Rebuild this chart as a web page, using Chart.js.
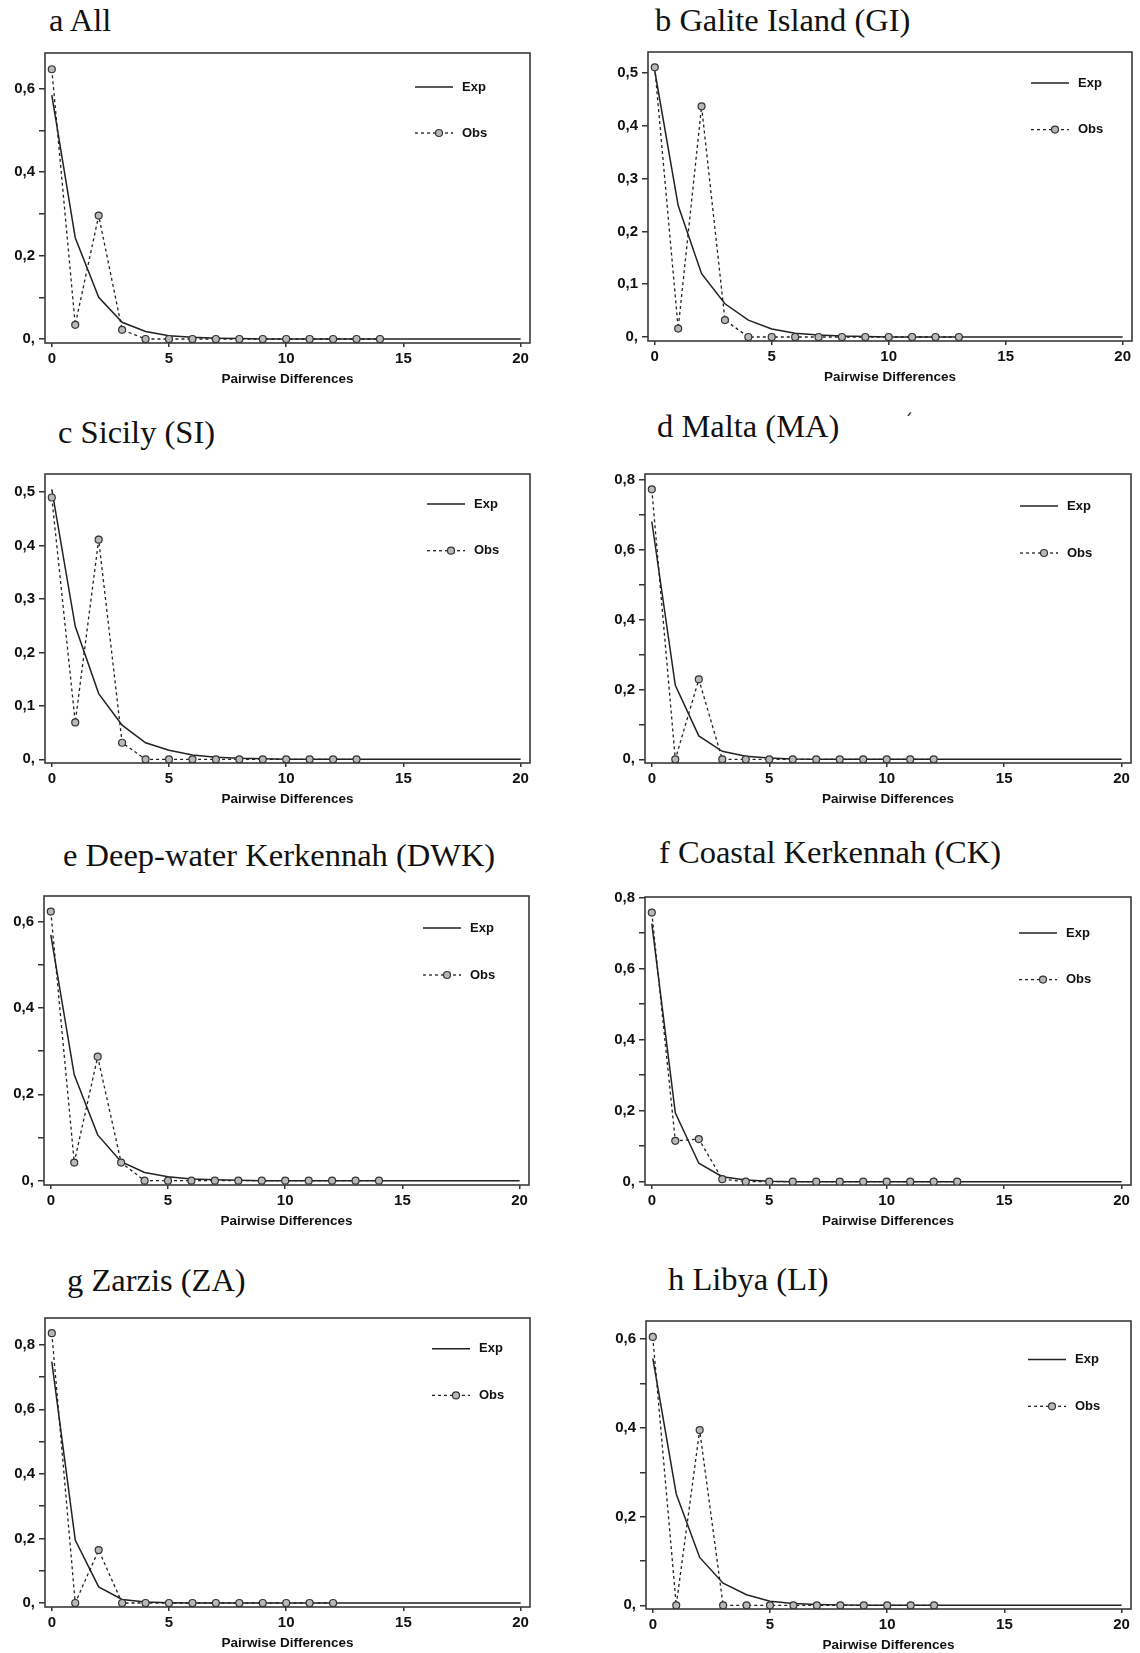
<!DOCTYPE html>
<html>
<head>
<meta charset="utf-8">
<script src="https://cdn.jsdelivr.net/npm/chart.js@4"></script>
<style>
  body { margin: 0; background: #fff; }
  #page { position: relative; width: 1140px; height: 1653px; overflow: hidden; background: #fff; }
  .ttl { position: absolute; font: 32.5px 'Liberation Serif', 'Times New Roman', serif; line-height: 32.5px; white-space: nowrap; color: #111; }
  canvas { position: absolute; }
</style>
</head>
<body>
<div id="page"></div>
<script>
// mismatch distributions: expected (0..20) and observed (0..n)
const expAll = [0.585, 0.243, 0.100, 0.040, 0.018, 0.008, 0.004, 0.002, 0.001, 0, 0, 0, 0, 0, 0, 0, 0, 0, 0, 0, 0];
const obsAll = [0.647, 0.034, 0.296, 0.022, 0, 0, 0, 0, 0, 0, 0, 0, 0, 0, 0];
const expGI = [0.504, 0.249, 0.120, 0.063, 0.032, 0.015, 0.007, 0.004, 0.002, 0.001, 0, 0, 0, 0, 0, 0, 0, 0, 0, 0, 0];
const obsGI = [0.511, 0.016, 0.437, 0.032, 0, 0, 0, 0, 0, 0, 0, 0, 0, 0];
const expSI = [0.505, 0.249, 0.123, 0.064, 0.031, 0.017, 0.008, 0.004, 0.002, 0.001, 0, 0, 0, 0, 0, 0, 0, 0, 0, 0, 0];
const obsSI = [0.490, 0.069, 0.411, 0.031, 0, 0, 0, 0, 0, 0, 0, 0, 0, 0];
const expMA = [0.681, 0.212, 0.067, 0.023, 0.009, 0.004, 0.001, 0, 0, 0, 0, 0, 0, 0, 0, 0, 0, 0, 0, 0, 0];
const obsMA = [0.773, 0, 0.229, 0, 0, 0, 0, 0, 0, 0, 0, 0, 0];
const expDWK = [0.569, 0.245, 0.106, 0.044, 0.019, 0.009, 0.004, 0.002, 0.001, 0, 0, 0, 0, 0, 0, 0, 0, 0, 0, 0, 0];
const obsDWK = [0.623, 0.042, 0.287, 0.042, 0, 0, 0, 0, 0, 0, 0, 0, 0, 0, 0];
const expCK = [0.727, 0.194, 0.052, 0.014, 0.005, 0.001, 0, 0, 0, 0, 0, 0, 0, 0, 0, 0, 0, 0, 0, 0, 0];
const obsCK = [0.758, 0.115, 0.120, 0.007, 0, 0, 0, 0, 0, 0, 0, 0, 0, 0];
const expZA = [0.748, 0.195, 0.050, 0.011, 0.003, 0.001, 0, 0, 0, 0, 0, 0, 0, 0, 0, 0, 0, 0, 0, 0, 0];
const obsZA = [0.836, 0, 0.164, 0, 0, 0, 0, 0, 0, 0, 0, 0, 0];
const expLI = [0.557, 0.251, 0.108, 0.050, 0.024, 0.009, 0.004, 0.002, 0.001, 0, 0, 0, 0, 0, 0, 0, 0, 0, 0, 0, 0];
const obsLI = [0.605, 0, 0.395, 0, 0, 0, 0, 0, 0, 0, 0, 0, 0];

const xTickValues = [0, 5, 10, 15, 20];
const yTickValues = [0, 0.1, 0.2, 0.3, 0.4, 0.5, 0.6, 0.7, 0.8];
const seriesNames = ['Exp', 'Obs'];
const xTitle = 'Pairwise Differences';

// box = plot frame [left, top, width, height]; legend = [dx from right, row1 dy, row2 dy]
const panels = [
  { title: 'a All', exp: expAll, obs: obsAll, box: [45, 53, 485, 290], tpos: [49, 31], yMin: -0.0096, yMax: 0.686, every: 2, legend: [115, 34, 80] },
  { title: 'b Galite Island (GI)', exp: expGI, obs: obsGI, box: [648, 52, 484, 289], tpos: [655, 31], yMin: -0.0076, yMax: 0.540, every: 1, legend: [101, 31, 77.6] },
  { title: 'c Sicily (SI)', exp: expSI, obs: obsSI, box: [45, 474, 485, 289], tpos: [58, 443], yMin: -0.0069, yMax: 0.534, every: 1, legend: [103, 30, 76.7] },
  { title: 'd Malta (MA)', exp: expMA, obs: obsMA, box: [645, 474, 486, 289], tpos: [657, 436.5], yMin: -0.0105, yMax: 0.817, every: 2, legend: [111, 32, 79] },
  { title: 'e Deep-water Kerkennah (DWK)', exp: expDWK, obs: obsDWK, box: [44, 896, 485, 289], tpos: [63, 865.5], yMin: -0.010, yMax: 0.659, every: 2, legend: [106, 32, 79] },
  { title: 'f Coastal Kerkennah (CK)', exp: expCK, obs: obsCK, box: [645, 897, 486, 288], tpos: [659, 863], yMin: -0.0094, yMax: 0.802, every: 2, legend: [112, 36, 82.6] },
  { title: 'g Zarzis (ZA)', exp: expZA, obs: obsZA, box: [45, 1318, 485, 289], tpos: [67, 1290.5], yMin: -0.0124, yMax: 0.883, every: 2, legend: [98, 30.7, 77.4] },
  { title: 'h Libya (LI)', exp: expLI, obs: obsLI, box: [646, 1321, 485, 288], tpos: [668, 1290], yMin: -0.0083, yMax: 0.641, every: 2, legend: [103, 38.6, 85.3] }
];

const PAD_L = 46, PAD_T = 16, PAD_R = 12, PAD_B = 47;
const INK = '#222';
const SANS = '"Liberation Sans", Arial, sans-serif';

const framePlugin = {
  id: 'frame',
  beforeDatasetsDraw(chart) {
    const { ctx, chartArea: a } = chart;
    ctx.save();
    ctx.strokeStyle = '#3a3a3a';
    ctx.lineWidth = 1.6;
    ctx.strokeRect(a.left, a.top, a.right - a.left, a.bottom - a.top);
    ctx.restore();
  }
};

const pairLegend = {
  id: 'pairLegend',
  afterDatasetsDraw(chart, args, o) {
    const { ctx, chartArea: a } = chart;
    const ds = chart.data.datasets;
    const x0 = a.right - o.dx, x1 = x0 + 38;
    const y1 = a.top + o.dy1, y2 = a.top + o.dy2;
    ctx.save();
    ctx.strokeStyle = INK;
    ctx.lineWidth = 1.5;
    ctx.beginPath(); ctx.moveTo(x0, y1); ctx.lineTo(x1, y1); ctx.stroke();
    ctx.lineWidth = 1.3;
    ctx.setLineDash([3, 3]);
    ctx.beginPath(); ctx.moveTo(x0, y2); ctx.lineTo(x1, y2); ctx.stroke();
    ctx.setLineDash([]);
    ctx.lineWidth = 1.2;
    ctx.beginPath(); ctx.arc(x0 + 24, y2, 3.5, 0, Math.PI * 2);
    ctx.fillStyle = '#b8b8b8'; ctx.fill(); ctx.strokeStyle = '#333'; ctx.stroke();
    ctx.fillStyle = '#111';
    ctx.font = 'bold 13px ' + SANS;
    ctx.textBaseline = 'middle';
    ctx.fillText(ds[0].label, x0 + 47, y1);
    ctx.fillText(ds[1].label, x0 + 47, y2);
    ctx.restore();
  }
};

const page = document.getElementById('page');

panels.forEach(p => {
  const [bx, by, bw, bh] = p.box;

  const t = document.createElement('div');
  t.className = 'ttl';
  t.textContent = p.title;
  t.style.left = p.tpos[0] + 'px';
  t.style.top = (p.tpos[1] - 27) + 'px';
  page.appendChild(t);

  const cv = document.createElement('canvas');
  cv.width = bw + PAD_L + PAD_R;
  cv.height = bh + PAD_T + PAD_B;
  cv.style.left = (bx - PAD_L) + 'px';
  cv.style.top = (by - PAD_T) + 'px';
  page.appendChild(cv);

  new Chart(cv.getContext('2d'), {
    type: 'line',
    data: {
      datasets: [
        {
          label: seriesNames[0],
          data: p.exp.map((y, i) => ({ x: i, y: y })),
          borderColor: INK,
          borderWidth: 1.5,
          pointRadius: 0,
          tension: 0,
          fill: false,
          order: 2
        },
        {
          label: seriesNames[1],
          data: p.obs.map((y, i) => ({ x: i, y: y })),
          borderColor: INK,
          borderWidth: 1.3,
          borderDash: [3, 3],
          pointRadius: 3.5,
          pointBackgroundColor: '#b8b8b8',
          pointBorderColor: '#333',
          pointBorderWidth: 1.2,
          tension: 0,
          fill: false,
          order: 1
        }
      ]
    },
    options: {
      responsive: false,
      animation: false,
      devicePixelRatio: 1,
      layout: { padding: { left: 0, top: PAD_T, right: PAD_R, bottom: 0 } },
      plugins: {
        legend: { display: false },
        tooltip: { enabled: false },
        pairLegend: { dx: p.legend[0], dy1: p.legend[1], dy2: p.legend[2] }
      },
      scales: {
        x: {
          type: 'linear',
          min: -0.29,
          max: 20.4,
          afterBuildTicks: s => { s.ticks = xTickValues.map(v => ({ value: v })); },
          afterFit: s => { s.height = PAD_B; },
          grid: { drawOnChartArea: false, drawTicks: true, tickLength: 4, color: '#333', lineWidth: 1.5 },
          border: { display: false },
          ticks: {
            autoSkip: false,
            maxRotation: 0,
            padding: 3,
            color: '#111',
            font: { family: SANS, size: 15, weight: 'bold' }
          },
          title: {
            display: true,
            text: xTitle,
            color: '#111',
            padding: { top: 0, bottom: 3 },
            font: { family: SANS, size: 13.5, weight: 'bold' }
          }
        },
        y: {
          min: p.yMin,
          max: p.yMax,
          afterBuildTicks: s => { s.ticks = yTickValues.filter(v => v <= p.yMax).map(v => ({ value: v })); },
          afterFit: s => { s.width = PAD_L; },
          grid: { drawOnChartArea: false, drawTicks: true, tickLength: 6, color: '#333', lineWidth: 1.5 },
          border: { display: false },
          ticks: {
            autoSkip: false,
            padding: 4,
            color: '#111',
            font: { family: SANS, size: 15, weight: 'bold' },
            callback: v => {
              const k = Math.round(v * 10);
              if (k % p.every !== 0) return '';
              return '0,' + (k === 0 ? '' : k);
            }
          }
        }
      }
    },
    plugins: [framePlugin, pairLegend]
  });
});

// small stray stroke next to panel d title
const mark = document.createElement('div');
mark.className = 'ttl';
mark.style.font = '18px "DejaVu Sans", sans-serif';
mark.style.left = '904px';
mark.style.top = '410px';
mark.textContent = 'ˊ';
page.appendChild(mark);
</script>
</body>
</html>
